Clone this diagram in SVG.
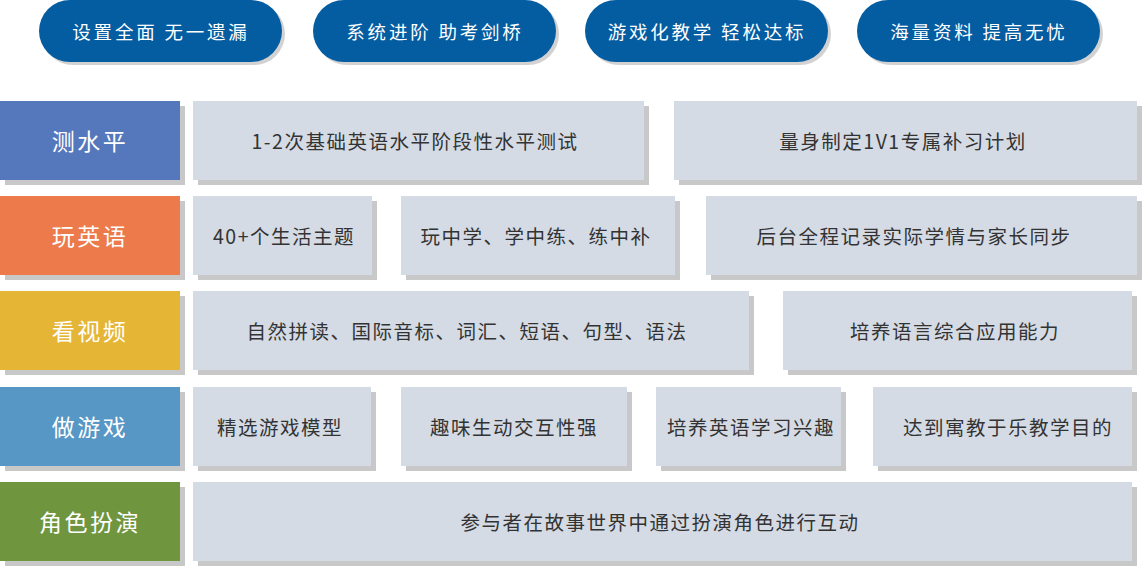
<svg xmlns="http://www.w3.org/2000/svg" width="1143" height="566" viewBox="0 0 1143 566">
<style>
text{font-family:"Noto Sans CJK SC","Noto Sans",sans-serif;text-anchor:middle;dominant-baseline:central}
.pill{fill:#045ca1}
.pshadow{fill:#d2d2d2}
.ptxt{fill:#fff;font-size:18.5px;letter-spacing:2.8px}
.sh{fill:#c8c8c8}
.box{fill:#d5dbe5}
.ctxt{fill:#333;font-size:19.5px;letter-spacing:1.5px}
.ltxt{fill:#fff;font-size:23px;letter-spacing:2.5px}
</style>
<g id="pills">
<g id="pill1"><rect class="pshadow" x="42" y="3" width="243" height="62" rx="31"/><rect class="pill" x="39" y="0" width="243" height="62" rx="31"/><text class="ptxt" x="161" y="31">设置全面 无一遗漏</text></g>
<g id="pill2"><rect class="pshadow" x="316" y="3" width="243" height="62" rx="31"/><rect class="pill" x="313" y="0" width="243" height="62" rx="31"/><text class="ptxt" x="435" y="31">系统进阶 助考剑桥</text></g>
<g id="pill3"><rect class="pshadow" x="588" y="3" width="243" height="62" rx="31"/><rect class="pill" x="585" y="0" width="243" height="62" rx="31"/><text class="ptxt" x="707" y="31">游戏化教学 轻松达标</text></g>
<g id="pill4"><rect class="pshadow" x="860" y="3" width="243" height="62" rx="31"/><rect class="pill" x="857" y="0" width="243" height="62" rx="31"/><text class="ptxt" x="979" y="31">海量资料 提高无忧</text></g>
</g>
<g id="labels">
<g id="label1"><rect class="sh" x="5" y="106" width="180" height="79"/><rect x="0" y="101" width="180" height="79" fill="#5577bc"/><text class="ltxt" x="90" y="140">测水平</text></g>
<g id="label2"><rect class="sh" x="5" y="201" width="180" height="79"/><rect x="0" y="196" width="180" height="79" fill="#ed7a4b"/><text class="ltxt" x="90" y="235">玩英语</text></g>
<g id="label3"><rect class="sh" x="5" y="296" width="180" height="79"/><rect x="0" y="291" width="180" height="79" fill="#e5b536"/><text class="ltxt" x="90" y="330">看视频</text></g>
<g id="label4"><rect class="sh" x="5" y="392" width="180" height="79"/><rect x="0" y="387" width="180" height="79" fill="#5697c5"/><text class="ltxt" x="90" y="426">做游戏</text></g>
<g id="label5"><rect class="sh" x="5" y="487" width="180" height="79"/><rect x="0" y="482" width="180" height="79" fill="#6f963f"/><text class="ltxt" x="90" y="521">角色扮演</text></g>
</g>
<g id="row1">
<g id="r1b1"><rect class="sh" x="198" y="106" width="451" height="79"/><rect class="box" x="193" y="101" width="451" height="79"/><text class="ctxt" x="415" y="140">1-2次基础英语水平阶段性水平测试</text></g>
<g id="r1b2"><rect class="sh" x="679" y="106" width="463" height="79"/><rect class="box" x="674" y="101" width="463" height="79"/><text class="ctxt" x="903" y="140">量身制定1V1专属补习计划</text></g>
</g>
<g id="row2">
<g id="r2b1"><rect class="sh" x="198" y="201" width="179" height="79"/><rect class="box" x="193" y="196" width="179" height="79"/><text class="ctxt" x="284" y="235">40+个生活主题</text></g>
<g id="r2b2"><rect class="sh" x="406" y="201" width="274" height="79"/><rect class="box" x="401" y="196" width="274" height="79"/><text class="ctxt" x="536" y="235">玩中学、学中练、练中补</text></g>
<g id="r2b3"><rect class="sh" x="711" y="201" width="431" height="79"/><rect class="box" x="706" y="196" width="431" height="79"/><text class="ctxt" x="914" y="235">后台全程记录实际学情与家长同步</text></g>
</g>
<g id="row3">
<g id="r3b1"><rect class="sh" x="198" y="296" width="556" height="79"/><rect class="box" x="193" y="291" width="556" height="79"/><text class="ctxt" x="467" y="330">自然拼读、国际音标、词汇、短语、句型、语法</text></g>
<g id="r3b2"><rect class="sh" x="788" y="296" width="349" height="79"/><rect class="box" x="783" y="291" width="349" height="79"/><text class="ctxt" x="955" y="330">培养语言综合应用能力</text></g>
</g>
<g id="row4">
<g id="r4b1"><rect class="sh" x="198" y="392" width="178" height="79"/><rect class="box" x="193" y="387" width="178" height="79"/><text class="ctxt" x="280" y="426">精选游戏模型</text></g>
<g id="r4b2"><rect class="sh" x="406" y="392" width="226" height="79"/><rect class="box" x="401" y="387" width="226" height="79"/><text class="ctxt" x="514" y="426">趣味生动交互性强</text></g>
<g id="r4b3"><rect class="sh" x="661" y="392" width="185" height="79"/><rect class="box" x="656" y="387" width="185" height="79"/><text class="ctxt" x="751" y="426">培养英语学习兴趣</text></g>
<g id="r4b4"><rect class="sh" x="878" y="392" width="259" height="79"/><rect class="box" x="873" y="387" width="259" height="79"/><text class="ctxt" x="1008" y="426">达到寓教于乐教学目的</text></g>
</g>
<g id="row5">
<g id="r5b1"><rect class="sh" x="198" y="487" width="939" height="79"/><rect class="box" x="193" y="482" width="939" height="79"/><text class="ctxt" x="660" y="521">参与者在故事世界中通过扮演角色进行互动</text></g>
</g>
<g id="connectors"/>
</svg>
